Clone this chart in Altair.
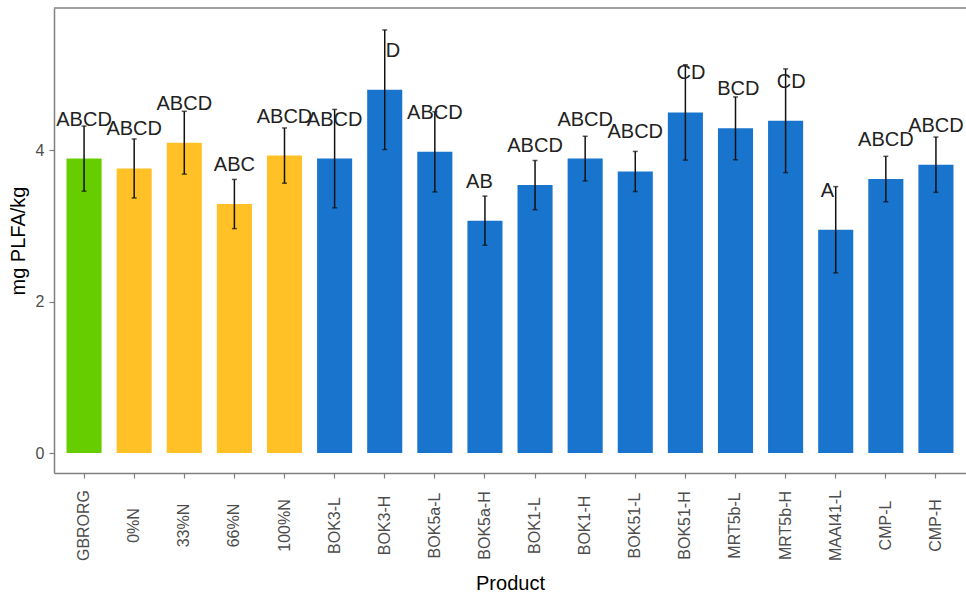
import altair as alt
import pandas as pd

# Product order, colour group, mean PLFA content, standard error and letter groups
products = ["GBRORG", "0%N", "33%N", "66%N", "100%N", "BOK3-L", "BOK3-H",
            "BOK5a-L", "BOK5a-H", "BOK1-L", "BOK1-H", "BOK51-L", "BOK51-H",
            "MRT5b-L", "MRT5b-H", "MAAI41-L", "CMP-L", "CMP-H"]
groups = ["reference"] + ["mineral"] * 4 + ["product"] * 13
means = [3.89, 3.76, 4.10, 3.29, 3.93, 3.89, 4.80, 3.98, 3.07, 3.54,
         3.89, 3.72, 4.50, 4.29, 4.39, 2.95, 3.62, 3.81]
se = [0.43, 0.39, 0.415, 0.325, 0.365, 0.65, 0.79, 0.53, 0.325, 0.325,
      0.295, 0.265, 0.63, 0.415, 0.685, 0.57, 0.30, 0.365]
# Compact-letter strings keep their padding; a zero-width guard stops it being trimmed
SP = "\u00a0"
ZW = "\u200b"
letters = ["ABCD", "ABCD", "ABCD", "ABC", "ABCD", "ABCD", ZW + SP * 3 + "D",
           "ABCD", "AB" + SP * 2 + ZW, "ABCD", "ABCD", "ABCD", ZW + SP * 2 + "CD",
           ZW + SP + "BCD", ZW + SP * 2 + "CD", "A" + SP * 3 + ZW, "ABCD", "ABCD"]

group_domain = ["reference", "mineral", "product"]
group_colors = ["#66CD00", "#FFC125", "#1874CD"]

df = pd.DataFrame({
    "product": products,
    "group": groups,
    "mean": means,
    "se": se,
    "letters": letters,
})
df["lo"] = df["mean"] - df["se"]
df["hi"] = df["mean"] + df["se"]

FONT = "Liberation Sans"
W, H = 912, 465
AXIS_GREY = "#808080"

x_enc = alt.X(
    "product:N",
    sort=products,
    scale=alt.Scale(paddingInner=0.3, paddingOuter=0.25),
    axis=alt.Axis(
        title="Product",
        titleFont=FONT, titleFontSize=20, titleFontWeight="normal", titleColor="#000000",
        titleX=W / 2, titleY=116, titleAlign="center", titleBaseline="alphabetic",
        labelFont=FONT, labelFontSize=16, labelColor="#4D4D4D",
        labelAngle=-90, labelAlign="center", labelBaseline="middle",
        labelPadding=47, labelOverlap=False,
        tickSize=5, tickColor=AXIS_GREY, tickWidth=1.2,
        domainColor=AXIS_GREY, domainWidth=1.5, grid=False,
    ),
)

y_scale = alt.Scale(domain=[-0.264, 5.88], nice=False, zero=False)
y_axis = alt.Axis(
    title="mg PLFA/kg", values=[0, 2, 4], format="d",
    titleFont=FONT, titleFontSize=20, titleFontWeight="normal", titleColor="#000000",
    titleX=-36, titleY=H / 2, titleAngle=-90, titleAlign="center", titleBaseline="middle",
    labelFont=FONT, labelFontSize=16, labelColor="#4D4D4D", labelPadding=5,
    tickSize=5, tickColor=AXIS_GREY, tickWidth=1.2,
    domainColor=AXIS_GREY, domainWidth=1.5, grid=False,
)

base = alt.Chart(df).encode(x=x_enc)

bars = base.mark_bar().encode(
    y=alt.Y("mean:Q", scale=y_scale, axis=y_axis),
    y2=alt.datum(0),
    color=alt.Color("group:N",
                    scale=alt.Scale(domain=group_domain, range=group_colors),
                    legend=None),
)

stems = base.mark_rule(color="#111111", strokeWidth=1.5).encode(
    y="lo:Q", y2="hi:Q"
)
caps_lo = base.mark_tick(color="#111111", size=5, thickness=1.5,
                         orient="horizontal").encode(y="lo:Q")
caps_hi = base.mark_tick(color="#111111", size=5, thickness=1.5,
                         orient="horizontal").encode(y="hi:Q")

labels = base.mark_text(
    font=FONT, fontSize=20, color="#222222", dy=-39, baseline="middle", align="center"
).encode(y="mean:Q", text="letters:N")

top_frame = alt.Chart(pd.DataFrame({"edge": [0]})).mark_rule(
    color=AXIS_GREY, strokeWidth=1.5
).encode(x=alt.value(0), x2=alt.value(W), y=alt.value(0))

chart = alt.layer(bars, stems, caps_lo, caps_hi, labels, top_frame).properties(
    width=W,
    height=H,
    autosize=alt.AutoSizeParams(type="none"),
    padding={"left": 54, "top": 8, "right": 0, "bottom": 123},
    background="#FFFFFF",
).configure_view(stroke=None)

chart.save("out.html", embed_options={"renderer": "svg", "actions": False})
